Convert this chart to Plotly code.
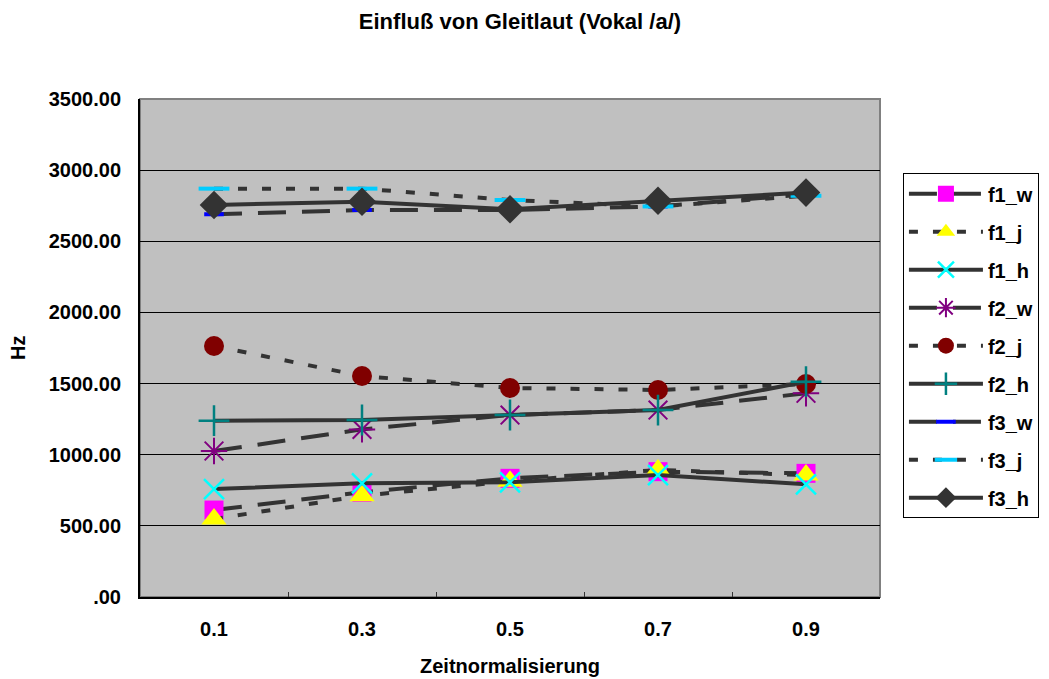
import plotly.graph_objects as go

# Formant measurements (Hz) at normalised time points
time_points = ["0.1", "0.3", "0.5", "0.7", "0.9"]

f1_w = [611, 736, 834, 881, 869]
f1_j = [548, 712, 813, 893, 857]
f1_h = [759, 799, 806, 857, 792]
f2_w = [1026, 1178, 1279, 1314, 1432]
f2_j = [1764, 1553, 1469, 1455, 1497]
f2_h = [1239, 1244, 1279, 1314, 1513]
f3_w = [2690, 2720, 2720, 2745, 2830]
f3_j = [2870, 2870, 2790, 2745, 2820]
f3_h = [2755, 2778, 2725, 2785, 2842]

y_tick_values = [0, 500, 1000, 1500, 2000, 2500, 3000, 3500]
y_tick_labels = [".00", "500.00", "1000.00", "1500.00", "2000.00",
                 "2500.00", "3000.00", "3500.00"]

FONT = "Liberation Sans, Arial, sans-serif"
LINE_COLOR = "#333333"
LONG_DASH = "28px,16px"
SQUARE_DOT = "9px,15px"

series = [
    ("f1_w", f1_w, LONG_DASH, dict(symbol="square", size=19, color="#FF00FF")),
    ("f1_j", f1_j, SQUARE_DOT, dict(symbol="triangle-up", size=22, color="#FFFF00")),
    ("f1_h", f1_h, "solid", dict(symbol="x-thin", size=20,
                                  line=dict(color="#00FFFF", width=2.5))),
    ("f2_w", f2_w, LONG_DASH, dict(symbol="asterisk", size=22,
                                    line=dict(color="#800080", width=2))),
    ("f2_j", f2_j, SQUARE_DOT, dict(symbol="circle", size=20, color="#800000")),
    ("f2_h", f2_h, "solid", dict(symbol="cross-thin", size=22,
                                  line=dict(color="#008080", width=2.5))),
    ("f3_w", f3_w, LONG_DASH, dict(symbol="line-ew", size=14,
                                    line=dict(color="#0000FF", width=4))),
    ("f3_j", f3_j, SQUARE_DOT, dict(symbol="line-ew", size=22,
                                     line=dict(color="#00CCFF", width=4))),
    ("f3_h", f3_h, "solid", dict(symbol="diamond", size=22, color=LINE_COLOR)),
]

fig = go.Figure()
for name, values, dash, marker in series:
    fig.add_trace(go.Scatter(
        x=time_points, y=values, name=name, legendgroup=name,
        mode="lines+markers",
        line=dict(color=LINE_COLOR, width=4, dash=dash),
        marker=marker,
    ))

fig.update_layout(
    width=1049, height=679,
    margin=dict(l=140, r=169, t=99, b=82, autoexpand=False),
    paper_bgcolor="white",
    plot_bgcolor="#C0C0C0",
    font=dict(family=FONT, size=20, color="black"),
    title=dict(
        text="<b>Einfluß von Gleitlaut (Vokal /a/)</b>",
        font=dict(family=FONT, size=22, color="black"),
        x=0.4957, xref="container", xanchor="center",
        y=0.969, yref="container", yanchor="middle",
    ),
    showlegend=True,
    legend=dict(
        x=1.031, xanchor="left", y=0.851, yanchor="top",
        bgcolor="white", bordercolor="black", borderwidth=1,
        font=dict(family=FONT, size=20, color="black", weight="bold"),
        traceorder="grouped", tracegroupgap=9,
        itemwidth=74,
    ),
)

fig.update_xaxes(
    type="category", range=[-0.5, 4.5],
    showgrid=False, zeroline=False,
    showline=True, linecolor="black", linewidth=2,
    ticks="inside", tickson="boundaries", ticklen=5, tickcolor="#333333",
    tickfont=dict(family=FONT, size=20, color="black", weight="bold"),
    ticklabelstandoff=13,
)

fig.update_yaxes(
    range=[0, 3500],
    tickvals=y_tick_values, ticktext=y_tick_labels,
    showgrid=True, gridcolor="black", gridwidth=1,
    zeroline=False,
    showline=True, linecolor="black", linewidth=2,
    ticks="",
    tickfont=dict(family=FONT, size=20, color="black", weight="bold"),
    ticklabelstandoff=13,
)

# grey frame around the plotting area
fig.add_shape(type="rect", xref="x domain", yref="y domain",
              x0=0, x1=1, y0=0, y1=1,
              line=dict(color="#808080", width=2), layer="below")

# axis titles
fig.add_annotation(text="<b>Zeitnormalisierung</b>", xref="paper", yref="paper",
                   x=0.5, y=-0.1386, xanchor="center", yanchor="middle",
                   showarrow=False, font=dict(family=FONT, size=20, color="black"))
fig.add_annotation(text="<b>Hz</b>", xref="paper", yref="paper",
                   x=-0.165, y=0.5, xanchor="center", yanchor="middle",
                   textangle=-90, showarrow=False,
                   font=dict(family=FONT, size=20, color="black"))

fig.write_html("out.html")
